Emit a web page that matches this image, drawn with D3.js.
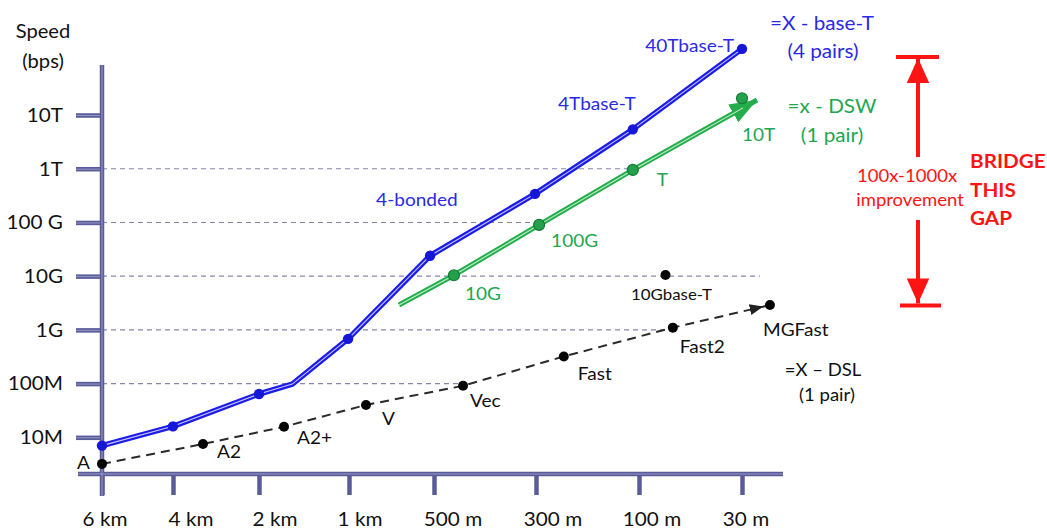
<!DOCTYPE html>
<html>
<head>
<meta charset="utf-8">
<script src="https://cdn.jsdelivr.net/npm/d3@7"></script>
<style>
  html, body { margin: 0; padding: 0; background: #fff; }
  svg { display: block; font-family: Lato, "Open Sans", sans-serif; }
</style>
</head>
<body>
<svg id="chart" width="1047" height="531"></svg>
<script>
// ---------------- DATA ----------------
const yTickValues = [1e7, 1e8, 1e9, 1e10, 1e11, 1e12, 1e13];
const yTickLabels = ["10M", "100M", "1G", "10G", "100 G", "1T", "10T"];

const xTickMeters = [6000, 4000, 2000, 1000, 500, 300, 100, 30];
const xTickLabels = ["6 km", "4 km", "2 km", "1 km", "500 m", "300 m", "100 m", "30 m"];

// =X - base-T (4 pairs)
const baseTMeters = [6000, 4000, 2000, 1630, 1010, 523, 302, 112, 30];
const baseTBps    = [7e6, 1.6e7, 6.4e7, 9.8e7, 6.8e8, 2.4e10, 3.4e11, 5.4e12, 1.7e14];
const baseTDot    = [true, true, true, false, true, true, true, true, true];
const baseTLabels = ["", "", "", "", "", "", "", "4Tbase-T", "40Tbase-T"];

// =x - DSW (1 pair)
const dswMeters = [706, 461, 294, 112, 19.8];
const dswBps    = [2.9e9, 1.04e10, 9e10, 9.5e11, 1.9e13];
const dswPointMeters = [461, 294, 112, 30];
const dswPointBps    = [1.04e10, 9e10, 9.5e11, 2.05e13];
const dswPointLabels = ["10G", "100G", "T", "10T"];

// =X – DSL (1 pair)
const dslNames  = ["A", "A2", "A2+", "V", "Vec", "Fast", "Fast2", "MGFast"];
const dslMeters = [6000, 3302, 1722, 900, 443, 246, 77, 11];
const dslBps    = [3.2e6, 7.5e6, 1.57e7, 4e7, 9.1e7, 3.2e8, 1.1e9, 2.9e9];

// standalone 10Gbase-T
const tenGName = "10Gbase-T";
const tenGMeters = 82;
const tenGBps = 1.05e10;

// dashed reference lines: level and how far they reach
const gridBps    = [1e8, 1e9, 1e10, 1e11, 1e12];
const gridMeters = [443, 77, 17.8, 294, 112];

// gap annotation
const gapTopBps = 1.2e14;
const gapBottomBps = 2.85e9;

// ---------------- LAYOUT / STYLE ----------------
const SX = 1.09; // horizontal text stretch
const AXIS = "#5a5c9a";
const BLUE = "#1c1ce8", BLUE_T = "#2a2ae6";
const GREEN = "#25ad4c", GREEN_T = "#22a650";
const RED = "#ff1414";

const svg = d3.select("#chart");

const x = d3.scaleLinear()
  .domain(xTickMeters)
  .range([102, 173, 259, 349, 434, 536, 639, 742]);
const y = d3.scaleLog().domain([1e7, 1e13]).range([437.3, 115]);

function txt(parent, px, py, s, o = {}) {
  return parent.append("text")
    .attr("transform", `translate(${px},${py}) scale(${o.sx || SX},1)`)
    .attr("text-anchor", o.anchor || "start")
    .attr("font-size", o.size || 17)
    .attr("font-weight", o.weight || "normal")
    .attr("fill", o.color || "#111")
    .text(s);
}

const defs = svg.append("defs");
defs.append("marker").attr("id", "arrGreen")
  .attr("markerUnits", "userSpaceOnUse").attr("markerWidth", 30).attr("markerHeight", 30)
  .attr("viewBox", "0 -10 22 20").attr("refX", 20).attr("refY", 0).attr("orient", "auto")
  .append("path").attr("d", "M0,-7.5L20,0L0,7.5Z").attr("fill", GREEN);
defs.append("marker").attr("id", "arrBlack")
  .attr("markerUnits", "userSpaceOnUse").attr("markerWidth", 30).attr("markerHeight", 30)
  .attr("viewBox", "0 -10 22 20").attr("refX", 15).attr("refY", 0).attr("orient", "auto")
  .append("path").attr("d", "M0,-4L10,0L0,4Z").attr("fill", "#222");
defs.append("marker").attr("id", "arrRed")
  .attr("markerUnits", "userSpaceOnUse").attr("markerWidth", 30).attr("markerHeight", 30)
  .attr("viewBox", "0 -12 24 24").attr("refX", 20).attr("refY", 0).attr("orient", "auto")
  .append("path").attr("d", "M0,-9L20,0L0,9Z").attr("fill", RED);

// ---------------- GRID ----------------
const gridG = svg.append("g");
gridBps.forEach((v, i) => {
  gridG.append("line")
    .attr("x1", x(6000)).attr("x2", x(gridMeters[i]))
    .attr("y1", y(v)).attr("y2", y(v))
    .attr("stroke", "#8486ad").attr("stroke-width", 1.1)
    .attr("stroke-dasharray", "5,4");
});

// ---------------- AXES ----------------
const axisG = svg.append("g");
const yAxis = d3.axisLeft(y).tickValues(yTickValues).tickFormat("").tickSize(26).tickSizeOuter(0);
const yAxG = axisG.append("g").attr("transform", `translate(${x(6000)},0)`).call(yAxis);
yAxG.select(".domain").remove();
yAxG.selectAll(".tick line").attr("stroke", AXIS).attr("stroke-width", 4.5);
yAxG.selectAll(".tick").append("line").attr("x1", -26).attr("x2", 0)
  .attr("stroke", "#a6a8d0").attr("stroke-width", 0.8);

const xAxis = d3.axisBottom(x).tickValues(xTickMeters).tickFormat("").tickSize(21).tickSizeOuter(0);
const xAxG = axisG.append("g").attr("transform", "translate(0,474)").call(xAxis);
xAxG.select(".domain").remove();
xAxG.selectAll(".tick line").attr("stroke", AXIS).attr("stroke-width", 4.5);

axisG.append("line").attr("x1", x(6000)).attr("x2", x(6000)).attr("y1", 65).attr("y2", 496)
  .attr("stroke", AXIS).attr("stroke-width", 4.5);
axisG.append("line").attr("x1", 78).attr("x2", 783).attr("y1", 474).attr("y2", 474)
  .attr("stroke", AXIS).attr("stroke-width", 4.5);
axisG.append("line").attr("x1", x(6000)).attr("x2", x(6000)).attr("y1", 65).attr("y2", 496)
  .attr("stroke", "#a6a8d0").attr("stroke-width", 0.8);
axisG.append("line").attr("x1", 78).attr("x2", 783).attr("y1", 474).attr("y2", 474)
  .attr("stroke", "#a6a8d0").attr("stroke-width", 0.8);

// tick labels
yTickValues.forEach((v, i) => txt(svg, 63, y(v) + 6.8, yTickLabels[i], { size: 19, anchor: "end" }));
const xLabelShift = [3, 18, 16, 11, 19, 17, 13, 4];
xTickMeters.forEach((m, i) => txt(svg, x(m) + xLabelShift[i], 526, xTickLabels[i], { size: 19, anchor: "middle" }));

txt(svg, 43, 38, "Speed", { size: 18.5, anchor: "middle" });
txt(svg, 43, 68, "(bps)", { size: 18.5, anchor: "middle" });

// ---------------- DSL (dashed) ----------------
const dslPts = dslMeters.map((m, i) => [x(m), y(dslBps[i])]);
svg.append("path").attr("d", d3.line()(dslPts))
  .attr("fill", "none").attr("stroke", "#2a2a2a").attr("stroke-width", 2)
  .attr("stroke-dasharray", "9,6").attr("marker-end", "url(#arrBlack)");
svg.append("g").selectAll("circle").data(dslPts).join("circle")
  .attr("cx", d => d[0]).attr("cy", d => d[1]).attr("r", 5).attr("fill", "#050505");
const dslLabelOff = [[-12, 5], [14, 14], [13, 17], [16, 20], [7, 21], [14, 24], [7, 25], [-7, 31]];
dslPts.forEach((p, i) => {
  const o = dslLabelOff[i];
  txt(svg, p[0] + o[0], p[1] + o[1], dslNames[i], { size: 17.5, anchor: i === 0 ? "end" : "start" });
});

// 10Gbase-T
svg.append("circle").attr("cx", x(tenGMeters)).attr("cy", y(tenGBps)).attr("r", 5).attr("fill", "#050505");
txt(svg, x(tenGMeters) + 6, y(tenGBps) + 25, tenGName, { size: 15.5, anchor: "middle" });

// ---------------- DSW (green) ----------------
const dswPts = dswMeters.map((m, i) => [x(m), y(dswBps[i])]);
svg.append("path").attr("d", d3.line()(dswPts))
  .attr("fill", "none").attr("stroke", GREEN).attr("stroke-width", 5)
  .attr("stroke-linecap", "butt").attr("marker-end", "url(#arrGreen)");
svg.append("path").attr("d", d3.line()(dswPts.slice(0, -1).concat([[
  dswPts[dswPts.length - 1][0] - 16 * 0.87, dswPts[dswPts.length - 1][1] + 16 * 0.49]])))
  .attr("fill", "none").attr("stroke", "#c4efcf").attr("stroke-width", 1.1);
const dswDots = dswPointMeters.map((m, i) => [x(m), y(dswPointBps[i])]);
svg.append("g").selectAll("circle").data(dswDots).join("circle")
  .attr("cx", d => d[0]).attr("cy", d => d[1]).attr("r", 5.5)
  .attr("fill", "#23a04a").attr("stroke", "#157a35").attr("stroke-width", 1.2);
const dswLabelOff = [[11, 25], [12, 22], [24, 16], [0, 43]];
dswDots.forEach((p, i) => txt(svg, p[0] + dswLabelOff[i][0], p[1] + dswLabelOff[i][1], dswPointLabels[i], { size: 17.5, color: GREEN_T }));

// ---------------- base-T (blue) ----------------
const btPts = baseTMeters.map((m, i) => [x(m), y(baseTBps[i])]);
svg.append("path").attr("d", d3.line()(btPts))
  .attr("fill", "none").attr("stroke", BLUE).attr("stroke-width", 5.5).attr("stroke-linejoin", "round");
svg.append("path").attr("d", d3.line()(btPts))
  .attr("fill", "none").attr("stroke", "#c9c9ff").attr("stroke-width", 1.1).attr("stroke-linejoin", "round");
svg.append("g").selectAll("circle").data(btPts.filter((d, i) => baseTDot[i])).join("circle")
  .attr("cx", d => d[0]).attr("cy", d => d[1]).attr("r", 5.2).attr("fill", "#1616d8");
btPts.forEach((p, i) => {
  if (baseTLabels[i] === "4Tbase-T") txt(svg, p[0] + 3, p[1] - 19, baseTLabels[i], { size: 17.5, anchor: "end", color: BLUE_T });
  if (baseTLabels[i] === "40Tbase-T") txt(svg, p[0] - 8, p[1] + 3, baseTLabels[i], { size: 17.5, anchor: "end", color: BLUE_T });
});
txt(svg, x(523) - 54, y(2.4e10) - 50, "4-bonded", { size: 17.5, color: BLUE_T });

// ---------------- series names ----------------
txt(svg, 822, 30, "=X - base-T", { size: 19, anchor: "middle", color: BLUE_T });
txt(svg, 823, 58, "(4 pairs)", { size: 19, anchor: "middle", color: BLUE_T });
txt(svg, 832, 113, "=x - DSW", { size: 19, anchor: "middle", color: GREEN_T });
txt(svg, 832, 142, "(1 pair)", { size: 19, anchor: "middle", color: GREEN_T });
txt(svg, 823, 376, "=X \u2013 DSL", { size: 17, anchor: "middle" });
txt(svg, 827, 401, "(1 pair)", { size: 17, anchor: "middle" });

// ---------------- gap annotation ----------------
const gx = 918;
const gTop = y(gapTopBps), gBot = y(gapBottomBps);
const gapG = svg.append("g");
gapG.append("line").attr("x1", gx - 22).attr("x2", gx + 21).attr("y1", gTop).attr("y2", gTop).attr("stroke", RED).attr("stroke-width", 4);
gapG.append("line").attr("x1", gx - 18).attr("x2", gx + 23).attr("y1", gBot).attr("y2", gBot).attr("stroke", RED).attr("stroke-width", 4);
gapG.append("line").attr("x1", gx).attr("x2", gx).attr("y1", 157).attr("y2", gTop + 1)
  .attr("stroke", RED).attr("stroke-width", 4).attr("marker-end", "url(#arrRed)");
gapG.append("line").attr("x1", gx).attr("x2", gx).attr("y1", 220).attr("y2", gBot - 2)
  .attr("stroke", RED).attr("stroke-width", 4).attr("marker-end", "url(#arrRed)");
txt(svg, 907, 182, "100x-1000x", { size: 17, anchor: "middle", color: RED });
txt(svg, 910, 206, "improvement", { size: 17, anchor: "middle", color: RED });
txt(svg, 970, 168, "BRIDGE", { size: 19, weight: "bold", color: RED });
txt(svg, 970, 196.5, "THIS", { size: 19, weight: "bold", color: RED });
txt(svg, 970, 225, "GAP", { size: 19, weight: "bold", color: RED });
</script>
</body>
</html>
